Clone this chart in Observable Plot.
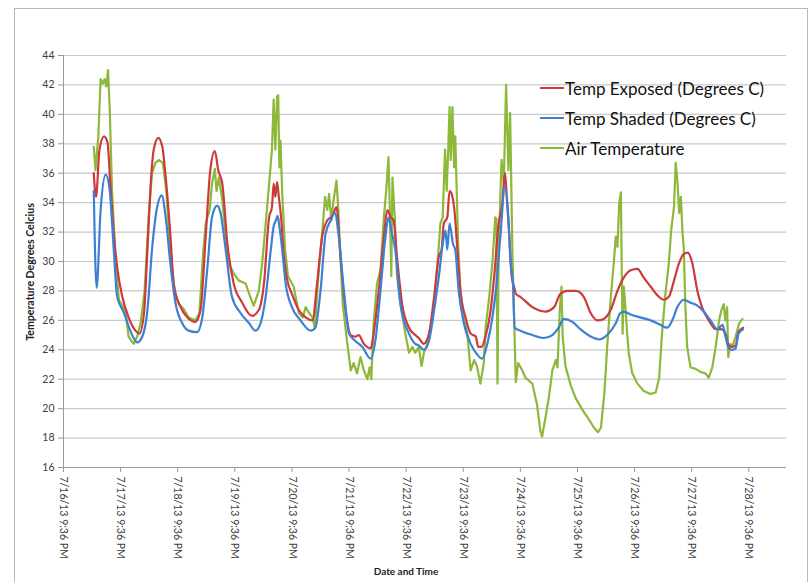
<!DOCTYPE html>
<html>
<head>
<meta charset="utf-8">
<script src="https://cdn.jsdelivr.net/npm/d3@7"></script>
<script src="https://cdn.jsdelivr.net/npm/@observablehq/plot@0.6"></script>
<style>
  html, body { margin: 0; padding: 0; background: #fff; }
  body { width: 811px; height: 582px; position: relative; overflow: hidden; font-family: Lato, "Open Sans", sans-serif; }
  #frame { position: absolute; left: 14px; top: 8px; width: 794px; height: 600px; border: 1px solid #b8b8b8; box-sizing: border-box; }
  #chart { position: absolute; left: 0; top: 0; }
  #ytitle { position: absolute; left: 30px; top: 272px; transform: translate(-50%, -50%) rotate(-90deg); font-size: 10.6px; font-weight: bold; color: #222; white-space: nowrap; }
  #xtitle { position: absolute; left: 406px; top: 565px; transform: translateX(-50%); font-size: 10px; font-weight: bold; color: #222; white-space: nowrap; }
  #legend { position: absolute; left: 540px; top: 73px; font-size: 17px; color: #111; }
  #legend .item { display: flex; align-items: center; height: 30px; }
  #legend .swatch { width: 24px; height: 2px; margin-right: 1px; }
</style>
</head>
<body>
<div id="frame"></div>
<div id="chart"></div>
<div id="ytitle">Temperature Degrees Celcius</div>
<div id="xtitle">Date and Time</div>
<div id="legend"></div>
<script>
// x values are days of July 2013 (fractional), y values in degrees C
const seriesNames = ["Temp Exposed (Degrees C)", "Temp Shaded (Degrees C)", "Air Temperature"];
const seriesColors = ["#cc3a3a", "#3d7fd4", "#8db83a"];

const exposedDays = [17.43,17.47,17.53,17.61,17.67,17.72,17.78,17.84,17.93,18.04,18.16,18.23,18.31,18.37,18.42,18.48,18.56,18.63,18.69,18.77,18.83,18.95,19.07,19.21,19.30,19.39,19.47,19.55,19.61,19.68,19.77,19.88,20.03,20.20,20.32,20.41,20.50,20.55,20.58,20.61,20.64,20.67,20.71,20.76,20.82,20.90,21.02,21.14,21.26,21.34,21.43,21.52,21.61,21.68,21.75,21.84,21.93,22.01,22.07,22.16,22.28,22.33,22.42,22.51,22.57,22.63,22.68,22.74,22.83,22.95,23.06,23.12,23.21,23.30,23.39,23.47,23.52,23.56,23.62,23.66,23.71,23.75,23.79,23.85,23.94,24.03,24.12,24.16,24.22,24.29,24.38,24.44,24.52,24.58,24.63,24.66,24.70,24.75,24.79,24.82,24.90,25.11,25.34,25.49,25.60,25.72,25.87,26.01,26.13,26.25,26.36,26.48,26.60,26.71,26.83,26.95,27.06,27.18,27.30,27.41,27.50,27.59,27.68,27.76,27.83,27.91,28.00,28.08,28.20,28.32,28.41,28.48,28.55,28.61,28.67,28.72,28.80];
const exposedTemps = [36.0,34.4,37.6,38.5,38.1,35.3,31.9,29.6,27.6,26.2,25.3,25.1,26.5,30.8,34.8,37.6,38.4,37.8,35.7,31.9,28.5,26.9,26.2,25.9,26.7,31.7,36.2,37.5,36.2,35.3,31.2,28.5,27.2,26.3,26.7,28.5,33.0,33.7,35.3,34.4,35.4,34.4,33.0,30.3,28.7,27.8,26.7,26.2,26.0,28.5,31.7,32.8,33.1,33.7,30.3,26.7,25.0,24.9,25.0,24.4,24.1,25.1,28.0,31.7,33.5,33.0,32.8,30.3,27.1,25.5,25.0,24.8,24.4,25.1,27.6,30.3,30.8,32.6,33.0,34.8,34.4,33.3,31.2,28.0,26.2,25.1,24.9,24.2,24.2,24.9,26.7,28.9,32.6,33.8,36.0,34.5,32.1,28.9,28.3,27.8,27.6,26.9,26.6,26.9,27.8,28.0,28.0,27.6,26.5,26.0,26.1,26.7,28.0,28.9,29.4,29.5,28.9,28.3,27.7,27.4,27.6,28.7,29.9,30.5,30.6,29.9,28.0,26.9,26.0,25.4,25.4,25.2,24.3,24.2,24.3,25.2,25.5];

const shadedDays = [17.43,17.48,17.55,17.64,17.71,17.78,17.84,17.96,18.07,18.19,18.28,18.37,18.45,18.54,18.62,18.69,18.77,18.86,18.98,19.09,19.24,19.33,19.42,19.50,19.59,19.65,19.74,19.85,20.00,20.15,20.26,20.35,20.44,20.53,20.58,20.62,20.65,20.68,20.73,20.79,20.90,21.05,21.23,21.31,21.40,21.49,21.58,21.65,21.72,21.81,21.90,22.01,22.13,22.28,22.36,22.45,22.53,22.59,22.64,22.71,22.80,22.95,23.06,23.12,23.21,23.30,23.39,23.47,23.54,23.59,23.62,23.66,23.72,23.76,23.82,23.91,24.03,24.14,24.23,24.32,24.41,24.47,24.55,24.63,24.69,24.73,24.77,24.80,24.90,25.11,25.31,25.46,25.57,25.66,25.81,25.95,26.13,26.28,26.42,26.57,26.65,26.71,26.83,27.00,27.18,27.35,27.47,27.56,27.65,27.76,27.88,28.00,28.11,28.23,28.35,28.44,28.48,28.55,28.61,28.67,28.72,28.80];
const shadedTemps = [34.8,28.2,33.5,35.9,34.8,30.8,27.6,26.5,25.3,24.5,24.9,26.7,30.8,33.7,34.5,33.0,29.9,27.2,25.8,25.3,25.2,26.2,29.6,33.0,33.8,33.3,30.8,27.6,26.5,25.8,25.3,25.8,27.6,30.8,32.4,32.8,33.1,32.4,30.8,28.5,26.9,26.0,25.3,25.5,28.0,31.9,32.8,33.3,31.7,28.0,25.1,24.6,24.2,23.4,24.6,28.0,31.4,33.0,32.1,30.8,27.1,25.1,24.4,24.3,24.0,24.6,26.7,28.9,31.2,32.1,30.8,32.6,31.2,30.8,28.0,25.8,24.4,23.7,23.4,24.4,26.2,28.0,31.7,35.1,33.0,29.9,28.5,25.5,25.3,25.0,24.8,25.0,25.5,26.1,25.9,25.4,24.9,24.7,25.0,25.8,26.5,26.6,26.4,26.2,26.0,25.7,25.5,26.0,26.9,27.4,27.2,27.0,26.6,26.0,25.4,25.7,25.1,24.1,24.0,24.1,25.1,25.4];

const airDays = [17.43,17.46,17.51,17.55,17.59,17.62,17.65,17.68,17.71,17.75,17.81,17.87,17.93,17.99,18.04,18.09,18.13,18.19,18.25,18.32,18.39,18.45,18.51,18.57,18.64,18.70,18.77,18.85,18.92,19.00,19.09,19.21,19.28,19.34,19.39,19.46,19.50,19.55,19.58,19.62,19.68,19.74,19.79,19.88,19.97,20.09,20.17,20.23,20.32,20.38,20.45,20.51,20.55,20.58,20.61,20.64,20.66,20.68,20.70,20.73,20.78,20.83,20.93,21.02,21.09,21.14,21.20,21.26,21.30,21.37,21.44,21.48,21.52,21.55,21.59,21.63,21.68,21.71,21.75,21.79,21.87,21.93,21.98,22.04,22.10,22.16,22.22,22.26,22.29,22.33,22.39,22.45,22.51,22.55,22.59,22.61,22.64,22.66,22.70,22.74,22.80,22.89,22.95,23.01,23.06,23.12,23.17,23.21,23.27,23.36,23.44,23.50,23.54,23.58,23.61,23.64,23.66,23.68,23.71,23.74,23.76,23.81,23.85,23.91,23.97,24.03,24.09,24.14,24.20,24.26,24.29,24.35,24.41,24.46,24.48,24.50,24.52,24.57,24.61,24.65,24.69,24.72,24.76,24.79,24.82,24.86,24.92,24.99,25.11,25.19,25.25,25.28,25.34,25.40,25.46,25.52,25.55,25.59,25.62,25.64,25.69,25.78,25.87,25.99,26.11,26.19,26.26,26.31,26.37,26.42,26.48,26.54,26.57,26.60,26.63,26.66,26.675,26.69,26.71,26.74,26.77,26.80,26.86,26.95,27.06,27.18,27.27,27.33,27.38,27.44,27.50,27.54,27.59,27.62,27.65,27.68,27.71,27.74,27.76,27.79,27.82,27.88,27.97,28.05,28.14,28.20,28.26,28.32,28.38,28.42,28.46,28.49,28.52,28.54,28.58,28.61,28.67,28.73,28.79];
const airTemps = [37.8,36.2,38.5,42.4,42.1,42.4,41.9,43.0,40.3,34.8,30.3,27.4,27.0,26.5,24.9,24.6,24.4,24.9,25.8,28.0,33.0,36.0,36.7,36.9,36.7,34.8,30.8,27.8,27.1,26.8,26.2,26.0,26.5,30.3,32.6,33.5,35.3,36.3,34.8,35.7,34.2,31.7,29.9,29.2,28.7,28.5,27.6,27.0,28.0,29.9,33.0,35.7,37.6,41.0,37.6,41.2,41.3,36.4,38.2,34.6,30.8,29.0,28.3,26.5,26.2,26.9,26.5,26.2,25.5,29.4,32.4,34.4,33.5,34.6,32.8,34.2,35.5,33.7,30.3,27.1,24.4,22.6,23.1,22.4,23.5,22.6,22.0,22.8,22.0,25.8,28.5,29.4,33.0,34.8,37.1,34.2,29.0,35.7,33.0,29.0,27.1,25.0,23.8,24.2,23.8,24.2,22.9,23.8,24.4,26.2,29.4,32.6,33.0,37.6,34.8,38.0,40.5,36.9,40.5,36.4,38.5,31.2,28.0,26.2,25.1,22.6,23.3,22.9,21.7,23.1,25.5,27.4,29.9,33.0,32.9,21.7,30.8,36.9,35.3,42.0,36.2,40.1,30.8,26.2,21.8,23.1,22.7,22.1,21.7,20.3,18.5,18.1,19.4,20.8,22.6,23.3,22.8,26.7,28.3,24.9,22.9,21.6,20.7,19.9,19.2,18.7,18.4,18.7,21.0,24.2,27.4,30.1,31.7,31.0,33.9,34.7,29.4,25.1,28.3,26.9,25.1,23.7,22.4,21.7,21.2,21.0,21.1,22.1,25.1,27.8,29.9,32.1,33.7,36.7,35.5,33.3,34.4,31.9,31.0,26.9,24.2,22.8,22.7,22.5,22.4,22.1,22.8,24.2,26.0,26.7,27.1,26.0,26.9,23.5,24.4,24.2,24.9,25.8,26.1];

const xTickDays = [16.9,17.9,18.9,19.9,20.9,21.9,22.9,23.9,24.9,25.9,26.9,27.9,28.9];
const xTickLabels = ["7/16/13 9:36 PM","7/17/13 9:36 PM","7/18/13 9:36 PM","7/19/13 9:36 PM","7/20/13 9:36 PM","7/21/13 9:36 PM","7/22/13 9:36 PM","7/23/13 9:36 PM","7/24/13 9:36 PM","7/25/13 9:36 PM","7/26/13 9:36 PM","7/27/13 9:36 PM","7/28/13 9:36 PM"];
const yTicks = [16,18,20,22,24,26,28,30,32,34,36,38,40,42,44];
const xDomain = [16.9, 29.56];

const toRows = (days, temps, name) => days.map((d, i) => ({day: d, temp: temps[i], series: name}));
const exposed = toRows(exposedDays, exposedTemps, seriesNames[0]);
const shaded = toRows(shadedDays, shadedTemps, seriesNames[1]);
const air = toRows(airDays, airTemps, seriesNames[2]);

const chart = Plot.plot({
  width: 811,
  height: 582,
  marginLeft: 63,
  marginRight: 25,
  marginTop: 55,
  marginBottom: 115,
  style: {fontFamily: "Lato, 'Open Sans', sans-serif", background: "transparent", color: "#404040"},
  x: {type: "linear", domain: xDomain},
  y: {domain: [16, 44]},
  marks: [
    Plot.gridY({ticks: yTicks, stroke: "#c9c9c9", strokeOpacity: 1, strokeWidth: 1.2}),
    Plot.ruleX([xDomain[0]], {stroke: "#9a9a9a"}),
    Plot.ruleY([16], {stroke: "#9a9a9a"}),
    Plot.axisY({ticks: yTicks, tickSize: 5, tickPadding: 4, fontSize: 10.5, stroke: "#9a9a9a", label: null}),
    Plot.axisX({ticks: xTickDays, tickFormat: (d, i) => xTickLabels[i], tickRotate: 90, tickSize: 5, tickPadding: 4, fontSize: 10.5, stroke: "#9a9a9a", label: null}),
    Plot.line(air, {x: "day", y: "temp", stroke: seriesColors[2], strokeWidth: 2.2, curve: "linear"}),
    Plot.line(exposed, {x: "day", y: "temp", stroke: seriesColors[0], strokeWidth: 2.2, curve: "monotone-x"}),
    Plot.line(shaded, {x: "day", y: "temp", stroke: seriesColors[1], strokeWidth: 2.2, curve: "monotone-x"})
  ]
});
document.getElementById("chart").appendChild(chart);

const legend = document.getElementById("legend");
seriesNames.forEach((name, i) => {
  const item = document.createElement("div");
  item.className = "item";
  const sw = document.createElement("span");
  sw.className = "swatch";
  sw.style.background = seriesColors[i];
  const label = document.createElement("span");
  label.textContent = name;
  item.appendChild(sw);
  item.appendChild(label);
  legend.appendChild(item);
});
</script>
</body>
</html>
